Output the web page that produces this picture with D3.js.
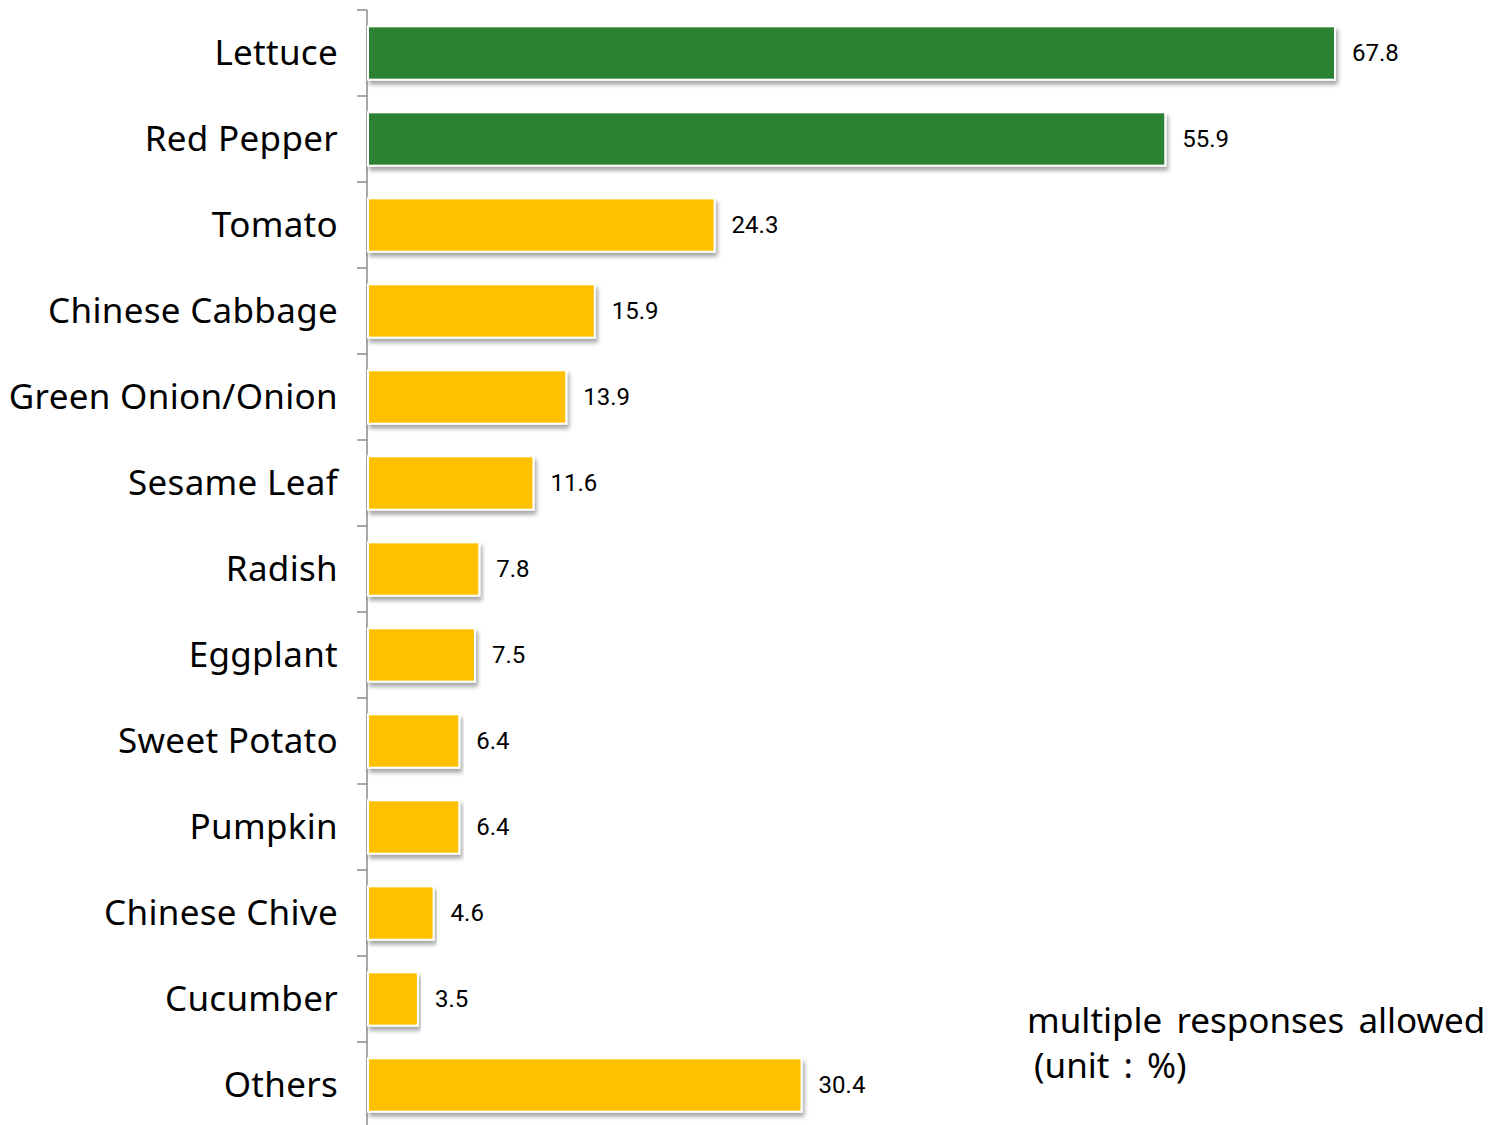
<!DOCTYPE html>
<html>
<head>
<meta charset="utf-8">
<script src="https://cdn.jsdelivr.net/npm/d3@7"></script>
<style>
  html, body { margin: 0; padding: 0; background: #fff; }
  svg { display: block; }
</style>
</head>
<body>
<svg id="chart" width="1504" height="1125"></svg>
<script>
// Vegetables grown (multiple responses, %)
const categories = ["Lettuce", "Red Pepper", "Tomato", "Chinese Cabbage", "Green Onion/Onion",
  "Sesame Leaf", "Radish", "Eggplant", "Sweet Potato", "Pumpkin", "Chinese Chive", "Cucumber", "Others"];
const values = [67.8, 55.9, 24.3, 15.9, 13.9, 11.6, 7.8, 7.5, 6.4, 6.4, 4.6, 3.5, 30.4];
const highlighted = ["Lettuce", "Red Pepper"];
const noteLines = ["multiple responses allowed", "(unit : %)"];

const svg = d3.select("#chart");
const axisX = 367;
const plotTop = 10, step = 86;

const x = d3.scaleLinear().domain([0, 67.8]).range([axisX + 1, 1335]);
const y = d3.scaleBand().domain(categories)
  .range([plotTop, plotTop + step * categories.length])
  .paddingInner(0.38).paddingOuter(0.19);

// soft shadow under each bar
const defs = svg.append("defs");
const f = defs.append("filter").attr("id", "shadow")
  .attr("x", "-5%").attr("y", "-20%").attr("width", "110%").attr("height", "160%");
f.append("feDropShadow").attr("dx", 2).attr("dy", 4).attr("stdDeviation", 2)
  .attr("flood-color", "#000").attr("flood-opacity", 0.35);

// category axis: line with ticks between bands
const axisG = svg.append("g");
axisG.append("line")
  .attr("x1", axisX).attr("x2", axisX)
  .attr("y1", plotTop).attr("y2", 1125)
  .attr("stroke", "#8c8c8c").attr("stroke-width", 1.5);
const tickYs = d3.range(categories.length + 1).map(i => plotTop + i * step);
axisG.selectAll("line.tick").data(tickYs).join("line")
  .attr("class", "tick")
  .attr("x1", axisX - 10).attr("x2", axisX)
  .attr("y1", d => d).attr("y2", d => d)
  .attr("stroke", "#8c8c8c").attr("stroke-width", 1.5);

axisG.selectAll("text.cat").data(categories).join("text")
  .attr("class", "cat")
  .attr("x", axisX - 29)
  .attr("y", d => y(d) + y.bandwidth() / 2)
  .attr("dy", "0.35em")
  .attr("text-anchor", "end")
  .attr("font-family", "'Noto Sans', 'Open Sans', sans-serif")
  .attr("font-size", 35)
  .attr("letter-spacing", 0.3)
  .attr("fill", "#000")
  .text(d => d);

// bars
svg.append("g").selectAll("rect").data(categories).join("rect")
  .attr("x", x(0))
  .attr("y", d => y(d))
  .attr("width", (d, i) => x(values[i]) - x(0))
  .attr("height", y.bandwidth())
  .attr("fill", d => highlighted.includes(d) ? "#2A8230" : "#FFC000")
  .attr("stroke", "#fff").attr("stroke-width", 2)
  .attr("filter", "url(#shadow)");

// value labels
svg.append("g").selectAll("text").data(categories).join("text")
  .attr("x", (d, i) => x(values[i]) + 17)
  .attr("y", d => y(d) + y.bandwidth() / 2)
  .attr("dy", "0.35em")
  .attr("font-family", "Roboto, sans-serif")
  .attr("font-size", 24)
  .attr("fill", "#000")
  .text((d, i) => values[i].toFixed(1));

// note
svg.append("g").selectAll("text").data(noteLines).join("text")
  .attr("x", (d, i) => i === 0 ? 1027 : 1034)
  .attr("y", (d, i) => 1033 + i * 45)
  .attr("font-family", "'Noto Sans', 'Open Sans', sans-serif")
  .attr("font-size", 35)
  .attr("word-spacing", 5)
  .attr("fill", "#000")
  .text(d => d);
</script>
</body>
</html>
